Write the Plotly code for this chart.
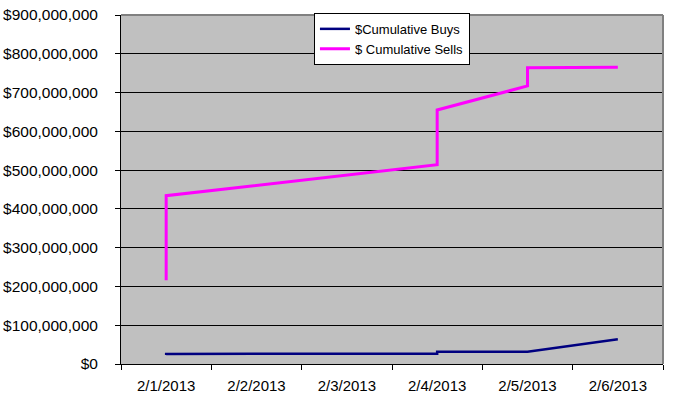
import plotly.graph_objects as go

# Data
buy_dates = ["2013-02-01", "2013-02-01", "2013-02-04", "2013-02-04", "2013-02-05", "2013-02-06"]
buy_values = [23e6, 26e6, 26.5e6, 31.7e6, 31.7e6, 63.6e6]

sell_dates = ["2013-02-01", "2013-02-01", "2013-02-04", "2013-02-04", "2013-02-05", "2013-02-05", "2013-02-06"]
sell_values = [216e6, 434e6, 514e6, 655e6, 717e6, 764e6, 765e6]

buy_name = "$Cumulative Buys"
sell_name = "$ Cumulative Sells"

FONT = "Liberation Sans, Arial, sans-serif"

fig = go.Figure()
fig.add_trace(go.Scatter(x=buy_dates, y=buy_values, mode="lines", name=buy_name,
                         line=dict(color="#000080", width=2.5)))
fig.add_trace(go.Scatter(x=sell_dates, y=sell_values, mode="lines", name=sell_name,
                         line=dict(color="#FF00FF", width=3)))

fig.update_layout(
    width=699, height=403,
    margin=dict(l=121, r=36, t=15, b=39, autoexpand=False),
    paper_bgcolor="white",
    plot_bgcolor="#C0C0C0",
    font=dict(family=FONT, color="black", size=14),
    showlegend=True,
    legend=dict(
        x=0.356, y=1.006, xanchor="left", yanchor="top",
        bgcolor="white", bordercolor="black", borderwidth=1,
        font=dict(family=FONT, size=13, color="black"),
        tracegroupgap=0,
    ),
    xaxis=dict(
        type="date",
        range=["2013-01-31 12:00", "2013-02-06 12:00"],
        tick0="2013-02-01", dtick=86400000,
        tickformat="%-m/%-d/%Y",
        ticks="", showgrid=False,
        showline=True, linecolor="black", linewidth=1,
        tickfont=dict(family=FONT, size=15, color="black"),
        ticklabelstandoff=8,
        minor=dict(tick0="2013-01-31 12:00", dtick=86400000, ticks="outside",
                   ticklen=5, tickcolor="black", tickwidth=1, showgrid=False),
        zeroline=False,
        automargin=False,
        fixedrange=True,
    ),
    yaxis=dict(
        range=[0, 900e6], dtick=100e6, tick0=0,
        tickprefix="$", tickformat=",.0f",
        showgrid=True, gridcolor="black", gridwidth=1,
        showline=True, linecolor="black", linewidth=1,
        ticks="outside", ticklen=5, tickcolor="black",
        tickfont=dict(family=FONT, size=15.5, color="black"),
        ticklabelstandoff=14,
        zeroline=False,
        automargin=False,
        fixedrange=True,
    ),
    shapes=[
        dict(type="line", xref="paper", yref="paper", x0=0, x1=1, y0=1, y1=1,
             line=dict(color="#808080", width=2), layer="above"),
        dict(type="line", xref="paper", yref="paper", x0=1, x1=1, y0=0, y1=1,
             line=dict(color="#808080", width=2), layer="above"),
    ],
)

fig.write_html("out.html", config={"displayModeBar": False},
               post_script="document.body.style.margin='0';document.body.style.padding='0';")
